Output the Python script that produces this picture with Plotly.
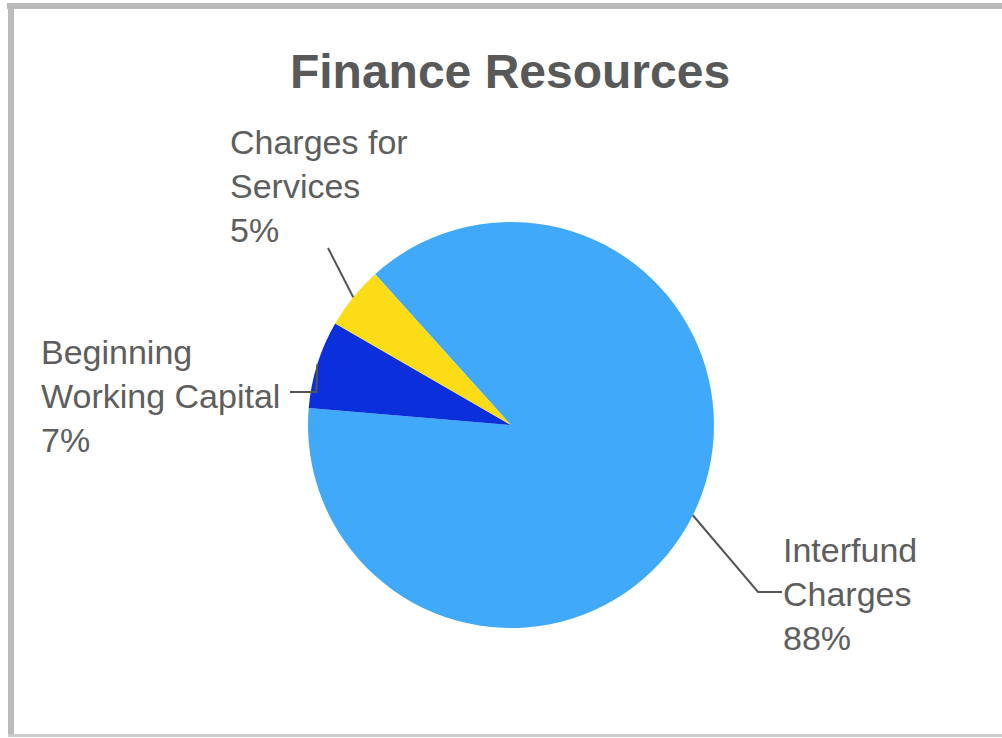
import math
import plotly.graph_objects as go

# Data
categories = ["Interfund Charges", "Beginning Working Capital", "Charges for Services"]
label_text = ["Interfund<br>Charges", "Beginning<br>Working Capital", "Charges for<br>Services"]
values = [88, 7, 5]
colors = ["#41A9F9", "#0B2FDA", "#FCDB17"]

W, H = 1002, 738
ROTATION = -42  # first slice starts here, measured clockwise from 12 o'clock

# Pie geometry in pixels
CX, CY, R = 511, 425, 203


def px(x):
    return x / W


def py(y):
    return 1 - y / H


fig = go.Figure(
    go.Pie(
        labels=categories,
        values=values,
        marker=dict(colors=colors, line=dict(width=0)),
        sort=False,
        direction="clockwise",
        rotation=ROTATION,
        textinfo="none",
        hoverinfo="label+percent",
        showlegend=False,
        domain=dict(x=[px(CX - R), px(CX + R)], y=[py(CY + R), py(CY - R)]),
    )
)

# Label placement: text anchor (left x, vertical centre y) and leader-line bends
label_layout = [
    dict(x=782, y=594, bends=[(758, 592), (782, 592)]),
    dict(x=40, y=396, bends=[None, (290, 392)]),
    dict(x=229, y=186, bends=[(328, 248)]),
]

total = sum(values)
cum = 0
shapes = []
annotations = []
line_color = "#555555"
for name, txt, v, lay in zip(categories, label_text, values, label_layout):
    mid = math.radians(ROTATION + 360 * (cum + v / 2) / total)
    cum += v
    sx = CX + R * math.sin(mid)
    sy = CY - R * math.cos(mid)
    pts = [(sx, sy)]
    for b in lay["bends"]:
        if b is None:
            continue
        pts.append(b)
    # vertical drop for the left label
    if lay["bends"][0] is None:
        pts = [(sx, sy), (sx - 1, lay["bends"][1][1]), lay["bends"][1]]
    path = "M " + " L ".join(f"{px(x)},{py(y)}" for x, y in pts)
    shapes.append(dict(type="path", xref="paper", yref="paper", path=path,
                       line=dict(color=line_color, width=2)))
    pct = round(100 * v / total)
    annotations.append(dict(
        x=px(lay["x"]), y=py(lay["y"]), xref="paper", yref="paper",
        xanchor="left", yanchor="middle", align="left", showarrow=False,
        text=f"{txt}<br>{pct}%",
        font=dict(family="Liberation Sans, Arial, sans-serif", size=34, color="#5E5E5E"),
        borderpad=0,
    ))

# Frame around the chart
frame = "#BBBBBB"
shapes += [
    dict(type="rect", xref="paper", yref="paper", x0=px(7), x1=1, y0=py(9), y1=py(3),
         fillcolor=frame, line=dict(width=0)),
    dict(type="rect", xref="paper", yref="paper", x0=px(8), x1=px(14), y0=py(737), y1=py(3),
         fillcolor=frame, line=dict(width=0)),
    dict(type="rect", xref="paper", yref="paper", x0=px(8), x1=1, y0=py(737), y1=py(734),
         fillcolor="#CCCCCC", line=dict(width=0)),
]

fig.update_layout(
    width=W,
    height=H,
    margin=dict(l=0, r=0, t=0, b=0),
    paper_bgcolor="white",
    plot_bgcolor="white",
    title=dict(
        text="<b>Finance Resources</b>",
        x=px(510), xanchor="center",
        y=py(71), yanchor="middle",
        font=dict(family="Liberation Sans, Arial, sans-serif", size=48, color="#595959"),
    ),
    shapes=shapes,
    annotations=annotations,
)

fig.write_html("out.html")
